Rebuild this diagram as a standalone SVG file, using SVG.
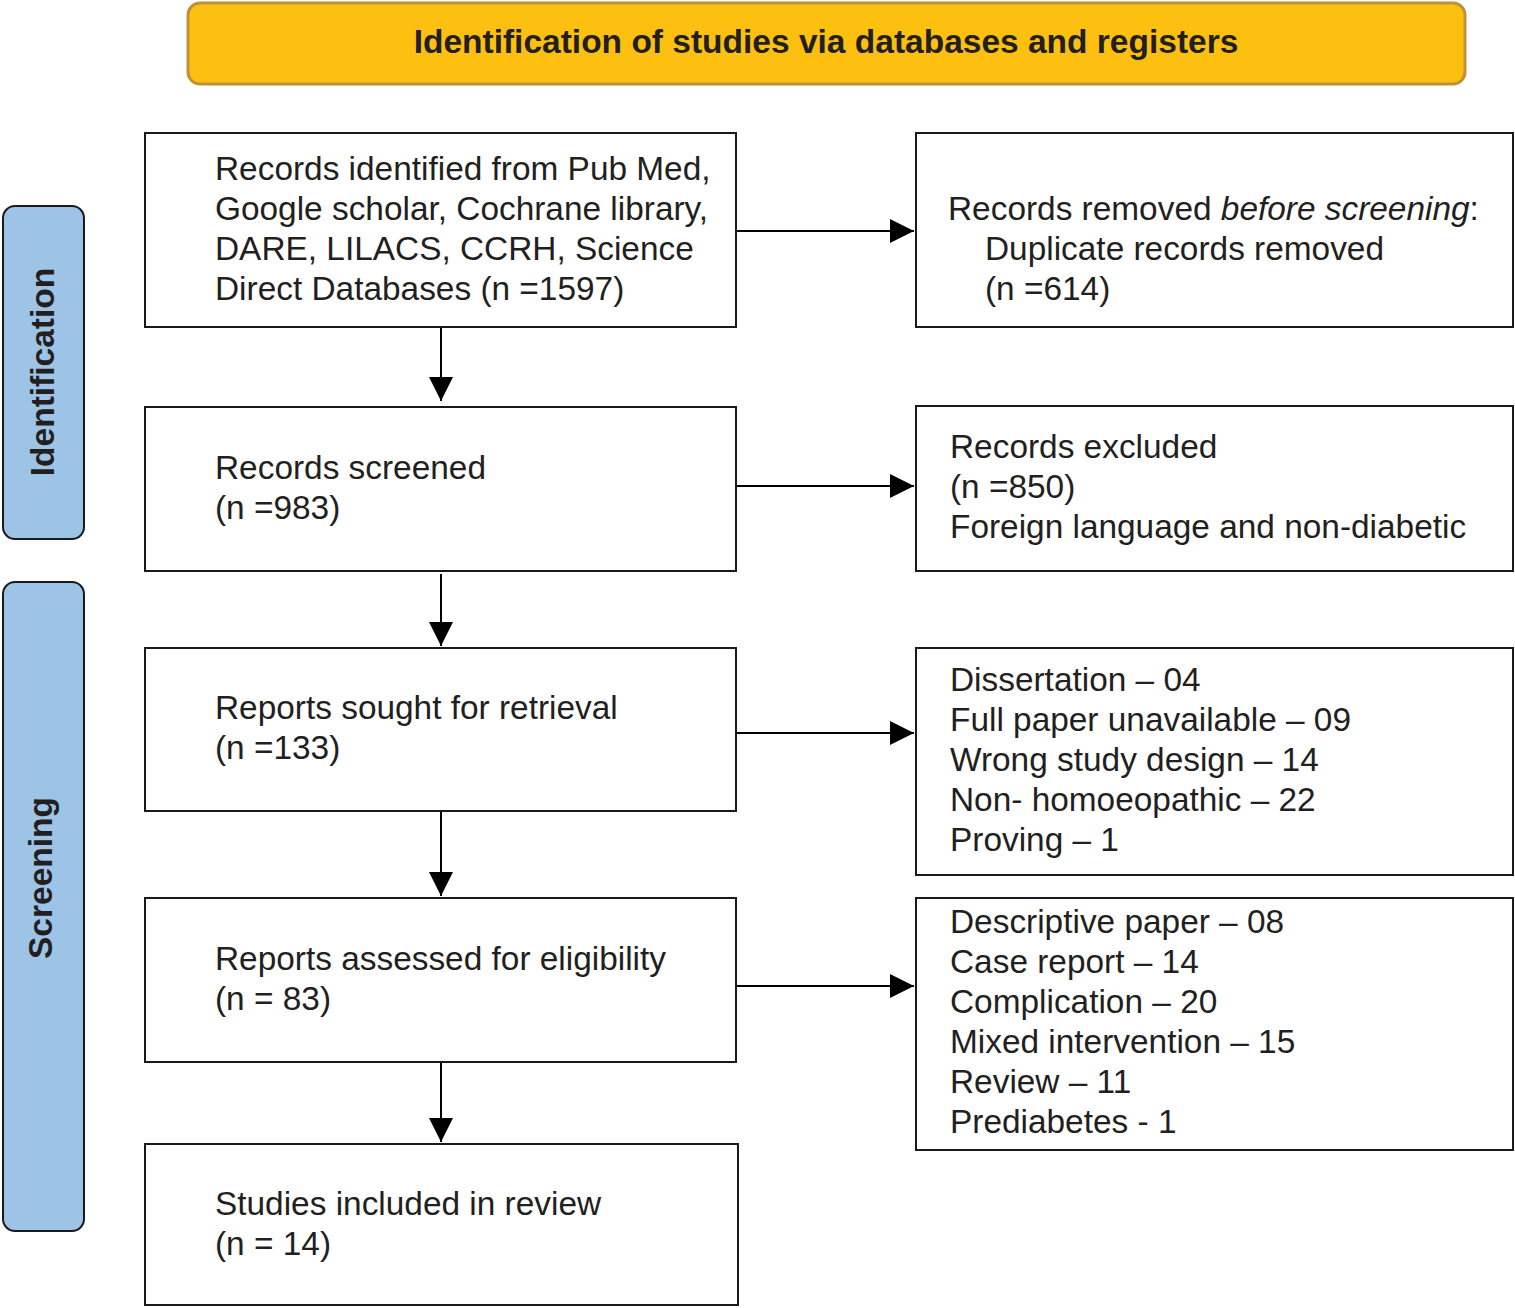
<svg xmlns="http://www.w3.org/2000/svg" width="1515" height="1308" viewBox="0 0 1515 1308">
<style>
.box{fill:#fff;stroke:#1a1a1a;stroke-width:2}
.t{font-family:"Liberation Sans",Arial,sans-serif;font-size:33.4px;fill:#231f20}
.b{font-family:"Liberation Sans",Arial,sans-serif;font-size:33.5px;font-weight:bold;fill:#231f20}
.side{fill:#9dc3e6;stroke:#1a1a1a;stroke-width:2}
.c{stroke:#000;stroke-width:2;fill:none;marker-end:url(#ah)}
</style>
<defs>
<marker id="ah" viewBox="0 0 24 24" refX="24" refY="12" markerWidth="24" markerHeight="24" markerUnits="userSpaceOnUse" orient="auto">
<path d="M0,0 L24,12 L0,24 Z" fill="#000"/>
</marker>
</defs>
<rect width="1515" height="1308" fill="#fff"/>
<g id="banner">
<rect x="188" y="3" width="1277" height="81" rx="12" fill="#fdc010" stroke="#bf9035" stroke-width="3"/>
<text class="b" x="826" y="53" text-anchor="middle">Identification of studies via databases and registers</text>
</g>
<g id="side-identification">
<rect class="side" x="3" y="206" width="81" height="333" rx="12"/>
<text class="b" transform="translate(54,372) rotate(-90)" text-anchor="middle">Identification</text>
</g>
<g id="side-screening">
<rect class="side" x="3" y="582" width="81" height="649" rx="12"/>
<text class="b" transform="translate(52,878) rotate(-90)" text-anchor="middle">Screening</text>
</g>
<g id="connectors">
<line class="c" x1="441" y1="327" x2="441" y2="401"/>
<line class="c" x1="441" y1="574" x2="441" y2="646"/>
<line class="c" x1="441" y1="811" x2="441" y2="896"/>
<line class="c" x1="441" y1="1062" x2="441" y2="1142"/>
<line class="c" x1="736" y1="231" x2="914" y2="231"/>
<line class="c" x1="736" y1="486" x2="914" y2="486"/>
<line class="c" x1="736" y1="733" x2="914" y2="733"/>
<line class="c" x1="736" y1="986" x2="914" y2="986"/>
</g>
<g id="records-identified">
<rect class="box" x="145" y="133" width="591" height="194"/>
<text class="t" x="215" y="180">Records identified from Pub Med,</text>
<text class="t" x="215" y="220">Google scholar, Cochrane library,</text>
<text class="t" x="215" y="260">DARE, LILACS, CCRH, Science</text>
<text class="t" x="215" y="300">Direct Databases (n =1597)</text>
</g>
<g id="records-removed">
<rect class="box" x="916" y="133" width="597" height="194"/>
<text class="t" x="948" y="220">Records removed <tspan font-style="italic">before screening</tspan>:</text>
<text class="t" x="985" y="260">Duplicate records removed</text>
<text class="t" x="985" y="300">(n =614)</text>
</g>
<g id="records-screened">
<rect class="box" x="145" y="407" width="591" height="164"/>
<text class="t" x="215" y="479">Records screened</text>
<text class="t" x="215" y="519">(n =983)</text>
</g>
<g id="records-excluded">
<rect class="box" x="916" y="406" width="597" height="165"/>
<text class="t" x="950" y="458">Records excluded</text>
<text class="t" x="950" y="498">(n =850)</text>
<text class="t" x="950" y="538">Foreign language and non-diabetic</text>
</g>
<g id="reports-sought">
<rect class="box" x="145" y="648" width="591" height="163"/>
<text class="t" x="215" y="719">Reports sought for retrieval</text>
<text class="t" x="215" y="759">(n =133)</text>
</g>
<g id="reports-not-retrieved">
<rect class="box" x="916" y="648" width="597" height="227"/>
<text class="t" x="950" y="691">Dissertation – 04</text>
<text class="t" x="950" y="731">Full paper unavailable – 09</text>
<text class="t" x="950" y="771">Wrong study design – 14</text>
<text class="t" x="950" y="811">Non- homoeopathic – 22</text>
<text class="t" x="950" y="851">Proving – 1</text>
</g>
<g id="reports-assessed">
<rect class="box" x="145" y="898" width="591" height="164"/>
<text class="t" x="215" y="970">Reports assessed for eligibility</text>
<text class="t" x="215" y="1010">(n = 83)</text>
</g>
<g id="reports-excluded">
<rect class="box" x="916" y="898" width="597" height="252"/>
<text class="t" x="950" y="933">Descriptive paper – 08</text>
<text class="t" x="950" y="973">Case report – 14</text>
<text class="t" x="950" y="1013">Complication – 20</text>
<text class="t" x="950" y="1053">Mixed intervention – 15</text>
<text class="t" x="950" y="1093">Review – 11</text>
<text class="t" x="950" y="1133">Prediabetes - 1</text>
</g>
<g id="studies-included">
<rect class="box" x="145" y="1144" width="593" height="161"/>
<text class="t" x="215" y="1215">Studies included in review</text>
<text class="t" x="215" y="1255">(n = 14)</text>
</g>
</svg>
